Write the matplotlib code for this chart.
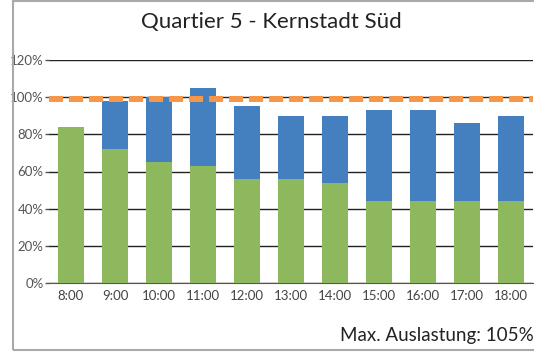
import matplotlib.pyplot as plt
from matplotlib.patches import Rectangle

# Auslastung je Stunde (Prozent)
stunden = ["8:00", "9:00", "10:00", "11:00", "12:00", "13:00", "14:00",
           "15:00", "16:00", "17:00", "18:00"]
grundlast = [84, 72, 65, 63, 56, 56, 54, 44, 44, 44, 44]
gesamt = [84, 98, 100, 105, 95, 90, 90, 93, 93, 86, 90]
grenze = 99

zusatz = [g - b for g, b in zip(gesamt, grundlast)]

plt.rcParams['font.family'] = ['Lato', 'DejaVu Sans']

fig = plt.figure(figsize=(5.34, 3.53), dpi=100)
W, H = 534, 353
ax = fig.add_axes([49 / W, 1 - 283 / H, (533 - 49) / W, (283 - 60) / H])

x = range(len(stunden))
ax.bar(x, grundlast, width=0.59, color="#8DB85D", zorder=3)
ax.bar(x, zusatz, width=0.59, bottom=grundlast, color="#4480C0", zorder=3)
ax.plot([-0.5, len(stunden) - 0.5], [grenze, grenze], color="#F79646",
        lw=4.3, dashes=(2.35, 1.0), solid_capstyle="butt", zorder=4)

ax.set_xlim(-0.5, len(stunden) - 0.5)
ax.set_ylim(0, 120)
ax.set_yticks(range(0, 121, 20))
ax.set_yticklabels([f"{v}%" for v in range(0, 121, 20)])
ax.set_xticks(list(x))
ax.set_xticklabels(stunden)
ax.grid(axis="y", color="#222222", lw=1, zorder=1)
for s in ["left", "right", "top"]:
    ax.spines[s].set_visible(False)
ax.spines["bottom"].set_color("#555555")
ax.tick_params(axis="y", length=3, width=1, color="#555555", pad=1,
               labelsize=9.5, labelcolor="#555555")
ax.tick_params(axis="x", length=0, pad=5, labelsize=9.5, labelcolor="#444444")

fig.text(271 / W, 1 - 22 / H, "Quartier 5 - Kernstadt Süd", ha="center",
         va="center", fontsize=16, color="#222222")
fig.text(534 / W, 1 - 336 / H, "Max. Auslastung: 105%", ha="right",
         va="center", fontsize=13.5, color="#222222")

# Rahmen um das Diagramm
fig.patches.append(Rectangle((13 / W, 3 / H), 0.99, 1 - 4 / H,
                             transform=fig.transFigure, fill=False,
                             edgecolor="#aaaaaa", lw=1.5))

fig.savefig("out.png", dpi=100)
